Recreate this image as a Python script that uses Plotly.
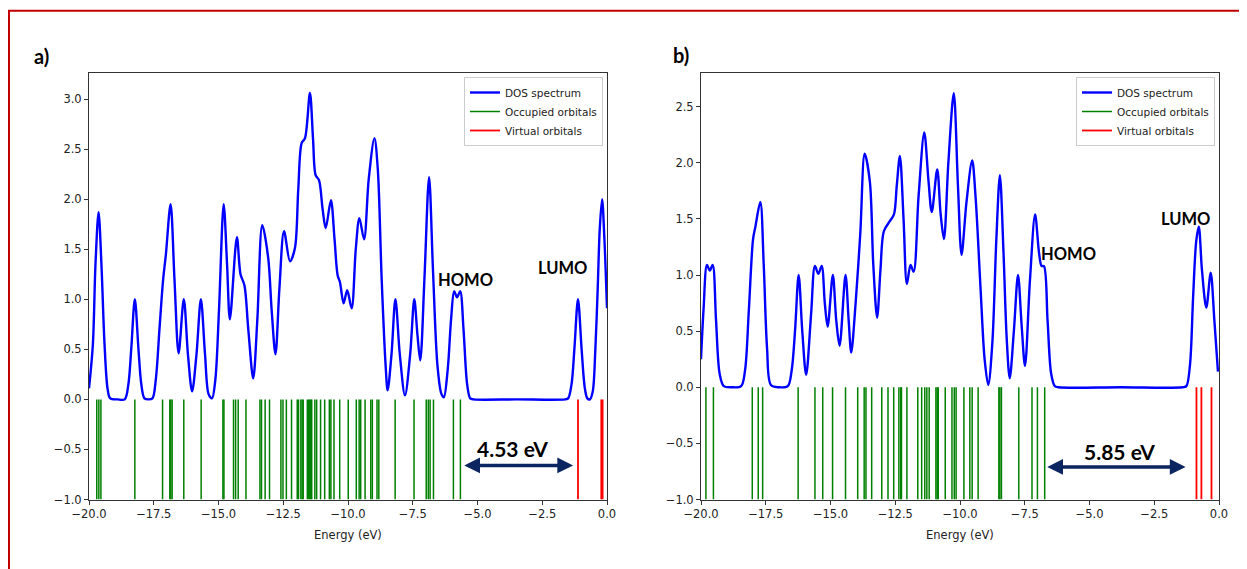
import plotly.graph_objects as go

# ---------------- data ----------------
# Panel a) DOS curve control points (energy eV, DOS)
dos_a_E = [-20.0, -19.85, -19.75, -19.63, -19.52, -19.40, -19.28, -19.18, -18.9, -18.62,
           -18.48, -18.37, -18.23, -18.09, -17.98, -17.86, -17.70, -17.55,
           -17.42, -17.28, -17.14, -17.03, -16.85, -16.70, -16.54, -16.34, -16.18, -16.02,
           -15.85, -15.68, -15.52, -15.38, -15.25, -15.12, -14.98, -14.80, -14.67, -14.56,
           -14.29, -14.15, -14.00, -13.85, -13.66, -13.50, -13.31, -13.08, -12.95, -12.80,
           -12.65, -12.47, -12.24, -12.05, -11.92, -11.79, -11.66, -11.47, -11.35, -11.25,
           -11.12, -10.98, -10.86, -10.66, -10.52, -10.40, -10.31, -10.17, -10.03, -9.86,
           -9.70, -9.56, -9.38, -9.20, -8.98, -8.85, -8.70, -8.55, -8.47, -8.32, -8.17,
           -8.00, -7.80, -7.60, -7.44, -7.32, -7.21, -7.05, -6.87, -6.72, -6.55, -6.40, -6.30,
           -6.15, -6.02, -5.90, -5.79, -5.67, -5.54, -5.40, -5.28, -5.15, -3.5, -1.62, -1.50,
           -1.37, -1.26, -1.12, -0.98, -0.86, -0.76, -0.66, -0.55, -0.45, -0.36, -0.28,
           -0.19, -0.10, 0.0]
dos_a_v = [0.11, 0.55, 1.35, 1.87, 1.35, 0.55, 0.10, 0.01, 0.0, 0.0,
           0.15, 0.50, 1.00, 0.50, 0.15, 0.01, 0.0, 0.01,
           0.20, 0.70, 1.19, 1.45, 1.95, 1.20, 0.46, 1.00, 0.45, 0.08,
           0.45, 1.00, 0.45, 0.05, 0.01, 0.20, 0.90, 1.95, 1.35, 0.80,
           1.62, 1.25, 1.14, 0.70, 0.21, 0.80, 1.74, 1.41, 0.90, 0.45,
           1.10, 1.68, 1.38, 1.51, 2.10, 2.56, 2.61, 3.06, 2.60, 2.24,
           2.19, 1.90, 1.71, 1.99, 1.60, 1.24, 1.17, 0.96, 1.09, 0.91,
           1.50, 1.81, 1.60, 2.20, 2.61, 2.30, 1.20, 0.35, 0.09, 0.45, 1.00,
           0.45, 0.04, 0.45, 1.00, 0.65, 0.39, 1.20, 2.22, 1.30, 0.35, 0.06, 0.02,
           0.30, 0.80, 1.08, 1.02, 1.08, 0.70, 0.15, 0.01, 0.0, 0.0, 0.0, 0.01,
           0.15, 0.50, 1.00, 0.50, 0.12, 0.01, 0.0, 0.08, 0.50, 1.10, 1.70,
           2.00, 1.60, 0.91]
occ_a = [-19.70, -19.62, -19.54, -18.23, -17.16, -16.88, -16.84, -16.79, -16.34, -15.67,
         -14.83, -14.79, -14.42, -14.34, -14.24, -13.94, -13.40, -13.34, -13.20, -13.03,
         -12.59, -12.51, -12.38, -12.18, -11.96, -11.91, -11.82, -11.77, -11.73, -11.57,
         -11.52, -11.48, -11.44, -11.40, -11.28, -11.21, -11.06, -10.90, -10.72, -10.66,
         -10.54, -10.32, -9.99, -9.68, -9.57, -9.51, -9.34, -9.12, -9.06, -8.88, -8.81,
         -8.18, -7.45, -6.98, -6.90, -6.83, -6.70, -5.93, -5.66]
virt_a = [-1.12, -0.22, -0.17]

# Panel b) DOS curve control points
dos_b_E = [-20.0, -19.90, -19.77, -19.66, -19.55, -19.42, -19.28, -19.12, -18.8, -18.45,
           -18.30, -18.15, -17.99, -17.90, -17.71, -17.58, -17.45, -17.30, -17.0, -16.65,
           -16.50, -16.37, -16.23, -16.09, -15.94, -15.75, -15.60, -15.47, -15.34, -15.22,
           -15.11, -14.91, -14.78, -14.65, -14.42, -14.30, -14.20, -14.03, -13.85, -13.68,
           -13.48, -13.35, -13.20, -13.07, -12.94, -12.71, -12.55, -12.44, -12.32, -12.18,
           -12.05, -11.91, -11.79, -11.60, -11.38, -11.22, -11.09, -10.88, -10.75, -10.62,
           -10.45, -10.24, -10.08, -9.94, -9.75, -9.53, -9.40, -9.20, -9.05, -8.91, -8.75,
           -8.60, -8.46, -8.32, -8.20, -8.08, -7.92, -7.76, -7.62, -7.49, -7.30, -7.10,
           -6.95, -6.85, -6.76, -6.62, -6.48, -6.34, -6.20, -3.8, -1.40, -1.26, -1.12,
           -1.00, -0.88, -0.78, -0.66, -0.49, -0.32, -0.18, -0.04]
dos_b_v = [0.25, 0.70, 1.09, 1.04, 1.09, 0.60, 0.12, 0.01, 0.0, 0.01,
           0.15, 0.70, 1.32, 1.43, 1.65, 1.10, 0.35, 0.02, 0.0, 0.01,
           0.15, 0.50, 1.00, 0.50, 0.11, 0.65, 1.08, 1.01, 1.08, 0.75,
           0.54, 1.00, 0.60, 0.37, 1.00, 0.60, 0.31, 0.75, 1.37, 2.08,
           1.83, 1.10, 0.62, 1.05, 1.39, 1.48, 1.54, 1.80, 2.06, 1.50,
           0.92, 1.09, 1.03, 1.70, 2.27, 1.85, 1.56, 1.94, 1.55, 1.32,
           2.00, 2.62, 1.80, 1.18, 1.65, 2.02, 1.70, 0.85, 0.25, 0.02, 0.40,
           1.30, 1.89, 1.20, 0.45, 0.08, 0.50, 1.00, 0.55, 0.19, 0.95, 1.54,
           1.20, 1.08, 1.08, 0.60, 0.12, 0.01, 0.0, 0.0, 0.0, 0.01, 0.20,
           0.80, 1.30, 1.43, 1.05, 0.71, 1.02, 0.60, 0.14]
occ_b = [-19.81, -19.52, -18.02, -17.79, -17.62, -16.25, -15.60, -15.30, -14.92, -14.42,
         -13.95, -13.70, -13.63, -13.41, -13.02, -12.78, -12.56, -12.36, -12.29, -12.26,
         -12.05, -11.63, -11.48, -11.36, -11.28, -11.19, -10.93, -10.88, -10.84, -10.57,
         -10.31, -10.22, -10.15, -9.85, -9.62, -9.53, -9.30, -8.50, -8.46, -8.40, -7.73,
         -7.22, -7.01, -6.73]
virt_b = [-0.87, -0.68, -0.29]

x_ticks = [-20.0, -17.5, -15.0, -12.5, -10.0, -7.5, -5.0, -2.5, 0.0]
y_ticks_a = [-1.0, -0.5, 0.0, 0.5, 1.0, 1.5, 2.0, 2.5, 3.0]
y_ticks_b = [-1.0, -0.5, 0.0, 0.5, 1.0, 1.5, 2.0, 2.5]
gap_a = "4.53 eV"
gap_b = "5.85 eV"

# ---------------- figure ----------------
WIN_W, WIN_H = 1247, 569
OFF = 8                      # default page margin of the html body
W, H = WIN_W - OFF, WIN_H - OFF
TXT = "DejaVu Sans"
LBL = "Lato"


def px(X):
    """window pixel x -> paper fraction"""
    return (X - OFF) / W


def py(Y):
    """window pixel y (from top) -> paper fraction"""
    return (H - (Y - OFF)) / H


def sticks(energies):
    xs, ys = [], []
    for e in energies:
        xs += [e, e, None]
        ys += [-1, 0, None]
    return xs, ys


fig = go.Figure()

panels = [
    (dos_a_E, dos_a_v, occ_a, virt_a, "x", "y", "legend"),
    (dos_b_E, dos_b_v, occ_b, virt_b, "x2", "y2", "legend2"),
]
for E, v, occ, virt, xa, ya, lg in panels:
    fig.add_trace(go.Scatter(x=E, y=v, mode="lines", name="DOS spectrum",
                             line=dict(color="#0000ff", width=2.4, shape="spline", smoothing=0.9),
                             xaxis=xa, yaxis=ya, legend=lg, hoverinfo="skip"))
    ox, oy = sticks(occ)
    fig.add_trace(go.Scatter(x=ox, y=oy, mode="lines", name="Occupied orbitals",
                             line=dict(color="#008000", width=1.5),
                             xaxis=xa, yaxis=ya, legend=lg, hoverinfo="skip"))
    vx, vy = sticks(virt)
    fig.add_trace(go.Scatter(x=vx, y=vy, mode="lines", name="Virtual orbitals",
                             line=dict(color="#ff0000", width=1.8),
                             xaxis=xa, yaxis=ya, legend=lg, hoverinfo="skip"))

y_dom = [py(499.5), py(73)]
dom_a = [px(89), px(607)]
dom_b = [px(701), px(1219)]

axis_common = dict(showline=True, linecolor="#333333", linewidth=1, mirror=True,
                   ticks="outside", ticklen=4, tickcolor="#333333", tickwidth=1,
                   showgrid=False, zeroline=False, automargin=False,
                   tickfont=dict(family=TXT, size=11.5, color="#222222"))

leg_common = dict(xanchor="right", yanchor="top", bgcolor="white",
                  bordercolor="#cccccc", borderwidth=1,
                  font=dict(family=TXT, size=10.5, color="#222222"),
                  tracegroupgap=0, itemwidth=30)

fig.update_layout(
    width=W, height=H,
    margin=dict(l=0, r=0, t=0, b=0, autoexpand=False),
    paper_bgcolor="white", plot_bgcolor="white",
    xaxis=dict(domain=dom_a, range=[-20, 0], tickvals=x_ticks, tickformat=".1f",
               anchor="y", **axis_common),
    yaxis=dict(domain=y_dom, range=[-1, 3.26], tickvals=y_ticks_a,
               tickformat=".1f", anchor="x", **axis_common),
    xaxis2=dict(domain=dom_b, range=[-20, 0], tickvals=x_ticks, tickformat=".1f",
                anchor="y2", **axis_common),
    yaxis2=dict(domain=y_dom, range=[-1, 2.80], tickvals=y_ticks_b,
                tickformat=".1f", anchor="x2", **axis_common),
    legend=dict(x=px(603), y=py(77), **leg_common),
    legend2=dict(x=px(1215), y=py(77), **leg_common),
    showlegend=True,
)

C = dict(xanchor="center", yanchor="middle", showarrow=False)
ann = []
# panel tags
ann.append(dict(text="<b>a)</b>", x=px(41), y=py(55.5), xref="paper", yref="paper",
                font=dict(family=LBL, size=20, color="black"), **C))
ann.append(dict(text="<b>b)</b>", x=px(680.5), y=py(55), xref="paper", yref="paper",
                font=dict(family=LBL, size=20, color="black"), **C))
# axis titles
for cx in [(89 + 607) / 2, (701 + 1219) / 2]:
    ann.append(dict(text="Energy (eV)", x=px(cx), y=py(535), xref="paper", yref="paper",
                    font=dict(family=TXT, size=11.5, color="#222222"), **C))
# HOMO / LUMO labels
lab_font = dict(family=LBL, size=16.5, color="black")
ann += [
    dict(text="<b>HOMO</b>", x=-5.48, y=1.19, xref="x", yref="y", font=lab_font, **C),
    dict(text="<b>LUMO</b>", x=-1.73, y=1.31, xref="x", yref="y", font=lab_font, **C),
    dict(text="<b>HOMO</b>", x=-5.80, y=1.19, xref="x2", yref="y2", font=lab_font, **C),
    dict(text="<b>LUMO</b>", x=-1.30, y=1.50, xref="x2", yref="y2", font=lab_font, **C),
]
# gap labels
gap_font = dict(family=LBL, size=21, color="black")
ann += [
    dict(text="<b>%s</b>" % gap_a, x=-3.63, y=-0.49, xref="x", yref="y", font=gap_font, **C),
    dict(text="<b>%s</b>" % gap_b, x=-3.83, y=-0.57, xref="x2", yref="y2", font=gap_font, **C),
]
# double-headed arrows
navy = "#0b2560"
for (xs, xe, yy, xr, yr) in [(-5.57, -1.31, -0.66, "x", "y"), (-6.69, -1.29, -0.71, "x2", "y2")]:
    ann.append(dict(text="", x=xe, y=yy, ax=xs, ay=yy, xref=xr, yref=yr, axref=xr, ayref=yr,
                    showarrow=True, arrowhead=2, arrowsize=0.9, arrowwidth=3.5,
                    arrowside="end+start", startarrowhead=2, startarrowsize=0.9,
                    arrowcolor=navy, standoff=0, startstandoff=0))
fig.update_layout(annotations=ann)

# red frame around the figure
fig.add_shape(type="rect", xref="paper", yref="paper",
              x0=px(9), x1=px(1243), y0=-0.05, y1=py(10.7),
              line=dict(color="#c00000", width=2), fillcolor="rgba(0,0,0,0)", layer="above")

fig.write_html("out.html")
